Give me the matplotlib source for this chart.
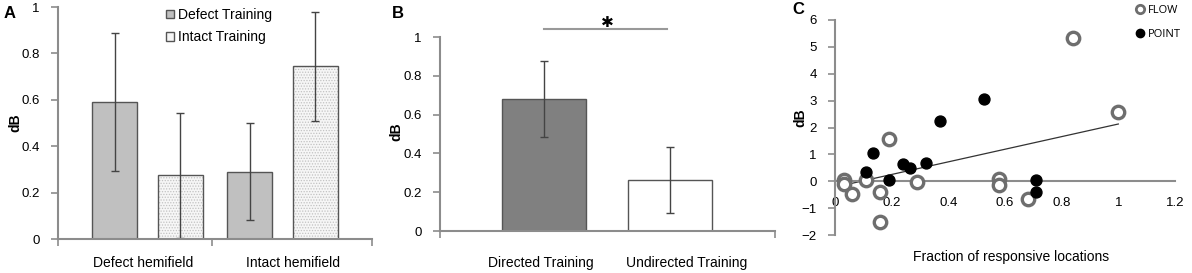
import matplotlib
matplotlib.use("Agg")
import matplotlib.pyplot as plt
from matplotlib.lines import Line2D
from matplotlib.patches import Patch

plt.rcParams["font.family"] = ["Liberation Sans", "DejaVu Sans"]
plt.rcParams["hatch.linewidth"] = 0.6

# --- panel A: hemifield x training type
a_groups = ["Defect hemifield", "Intact hemifield"]
a_series = ["Defect Training", "Intact Training"]
a_defect_train = [0.59, 0.29]
a_defect_lo = [0.295, 0.08]
a_defect_hi = [0.89, 0.50]
a_intact_train = [0.275, 0.745]
a_intact_lo = [0.005, 0.51]
a_intact_hi = [0.545, 0.98]

# --- panel B: directed vs undirected
b_labels = ["Directed Training", "Undirected Training"]
b_values = [0.68, 0.265]
b_lo = [0.485, 0.095]
b_hi = [0.875, 0.435]

# --- panel C: scatter
flow_x = [0.03, 0.03, 0.06, 0.11, 0.16, 0.16, 0.19, 0.29, 0.58, 0.58, 0.68, 0.84, 1.0]
flow_y = [0.05, -0.12, -0.47, 0.06, -0.4, -1.51, 1.57, -0.04, 0.08, -0.15, -0.66, 5.32, 2.56]
point_x = [0.11, 0.135, 0.19, 0.24, 0.265, 0.32, 0.37, 0.525, 0.71, 0.71]
point_y = [0.33, 1.05, 0.06, 0.64, 0.5, 0.68, 2.26, 3.07, 0.05, -0.4]
trend_x = [0.02, 1.0]
trend_y = [-0.17, 2.13]

W, H = 1192, 273
fig = plt.figure(figsize=(W / 100, H / 100), dpi=100)


def px_axes(left, top, right, bottom):
    return fig.add_axes([left / W, 1 - bottom / H, (right - left) / W, (bottom - top) / H])


SPINE = "#8c8c8c"
EDGE = "#555555"
DOTS = "#f6f6f6"


def style(ax):
    for s in ("top", "right"):
        ax.spines[s].set_visible(False)
    for s in ("left", "bottom"):
        ax.spines[s].set_color(SPINE)
        ax.spines[s].set_linewidth(1.5)
    ax.tick_params(axis="y", direction="out", length=5, width=1.2, color=SPINE,
                   labelsize=9.5, pad=8)


def err(vals, lo, hi):
    return [[v - l for v, l in zip(vals, lo)], [h - v for v, h in zip(vals, hi)]]


# ---------------- A ----------------
axA = px_axes(58, 7, 372, 239)
style(axA)
centers = [0.07, 0.93]
off = 0.21
bw = 0.29
xa1 = [c - off for c in centers]
xa2 = [c + off for c in centers]
ekw = dict(ecolor="#444444", elinewidth=1.0, capsize=3, capthick=1.0)
axA.bar(xa1, a_defect_train, bw, color="#c0c0c0", edgecolor=EDGE, linewidth=1.0,
        yerr=err(a_defect_train, a_defect_lo, a_defect_hi), error_kw=ekw, zorder=2)
# dotted fill: light hatch first, then a dark outline on top
axA.bar(xa2, a_intact_train, bw, color=DOTS, edgecolor="#c2c2c2", linewidth=0,
        hatch="......", zorder=2)
axA.bar(xa2, a_intact_train, bw, fill=False, edgecolor=EDGE, linewidth=1.0,
        yerr=err(a_intact_train, a_intact_lo, a_intact_hi), error_kw=ekw, zorder=2)
axA.set_xlim(-0.5, 1.5)
axA.set_ylim(0, 1)
axA.set_yticks([0, 0.2, 0.4, 0.6, 0.8, 1])
axA.set_yticklabels(["0", "0.2", "0.4", "0.6", "0.8", "1"])
axA.set_xticks([0.04, 1.0])
axA.set_xticklabels(a_groups)
axA.tick_params(axis="x", length=0, labelsize=10, pad=12)
axA.set_xticks([-0.5, 0.48, 1.5], minor=True)
axA.tick_params(axis="x", which="minor", length=5, width=1.2, color=SPINE, direction="out")
fig.text(15 / W, 1 - 123 / H, "dB", rotation=90, fontsize=10, fontweight="bold",
         ha="center", va="center")
fig.text(4 / W, 1 - 13 / H, "A", fontsize=12, fontweight="bold", ha="left", va="center")
legA = [Patch(facecolor="#c0c0c0", edgecolor=EDGE),
        Patch(facecolor=DOTS, edgecolor=EDGE)]
axA.legend(legA, a_series, loc="upper left", bbox_to_anchor=((160 - 58) / 314, 1.02),
           frameon=False, fontsize=10, handlelength=0.6, handleheight=0.6,
           handletextpad=0.3, labelspacing=0.6, borderaxespad=0)

# ---------------- B ----------------
axB = px_axes(440, 37, 775, 231)
style(axB)
xb = [0.62, 1.373]
axB.bar(xb, b_values, 0.5, color=["#808080", "white"], edgecolor=EDGE, linewidth=1.0,
        yerr=err(b_values, b_lo, b_hi), error_kw=ekw, zorder=2)
axB.set_xlim(0, 2)
axB.set_ylim(0, 1)
axB.set_yticks([0, 0.2, 0.4, 0.6, 0.8, 1])
axB.set_yticklabels(["0", "0.2", "0.4", "0.6", "0.8", "1"])
axB.set_xticks([0.6, 1.47])
axB.set_xticklabels(b_labels)
axB.tick_params(axis="x", length=0, labelsize=10, pad=18)
axB.set_xticks([0, 2], minor=True)
axB.tick_params(axis="x", which="minor", length=5, width=1.2, color=SPINE, direction="out")
axB.plot([0.62, 1.355], [1.041, 1.041], color="#999999", lw=1.5, clip_on=False)
axB.text(1.0, 1.075, "\u2731", ha="center", va="center", fontsize=11,
         family="DejaVu Sans", clip_on=False)
fig.text(396 / W, 1 - 132 / H, "dB", rotation=90, fontsize=10, fontweight="bold",
         ha="center", va="center")
fig.text(392 / W, 1 - 13 / H, "B", fontsize=12, fontweight="bold", ha="left", va="center")

# ---------------- C ----------------
axC = px_axes(835, 20, 1175, 235)
style(axC)
axC.spines["bottom"].set_position(("data", 0))
axC.set_xlim(0, 1.2)
axC.set_ylim(-2, 6)
axC.set_yticks(range(-2, 7))
axC.set_xticks([0, 0.2, 0.4, 0.6, 0.8, 1.0, 1.2])
axC.set_xticklabels(["0", "0.2", "0.4", "0.6", "0.8", "1", "1.2"])
axC.tick_params(axis="x", length=0, labelsize=9.5, pad=11)
axC.plot(trend_x, trend_y, color="#333333", lw=0.9, zorder=2)
axC.scatter(flow_x, flow_y, s=80, facecolor="white", edgecolor="#6e6e6e",
            linewidth=2.4, zorder=3, clip_on=False)
axC.scatter(point_x, point_y, s=62, color="black", zorder=4, clip_on=False)
axC.text(0.519, -0.102, "Fraction of responsive locations", transform=axC.transAxes,
         ha="center", va="center", fontsize=10)
fig.text(800 / W, 1 - 118 / H, "dB", rotation=90, fontsize=10, fontweight="bold",
         ha="center", va="center")
fig.text(792 / W, 1 - 10 / H, "C", fontsize=12, fontweight="bold", ha="left", va="center")
legC = [Line2D([], [], ls="none", marker="o", ms=6, mfc="white", mec="#6e6e6e", mew=2),
        Line2D([], [], ls="none", marker="o", ms=6, color="black")]
fig.legend(legC, ["FLOW", "POINT"], loc="upper left",
           bbox_to_anchor=(1136 / W, 1 - 5 / H), frameon=False,
           prop={"family": "Open Sans", "size": 8}, handlelength=0.8,
           handletextpad=0.3, labelspacing=1.2, borderaxespad=0, borderpad=0)

fig.savefig("out.png", dpi=100)
